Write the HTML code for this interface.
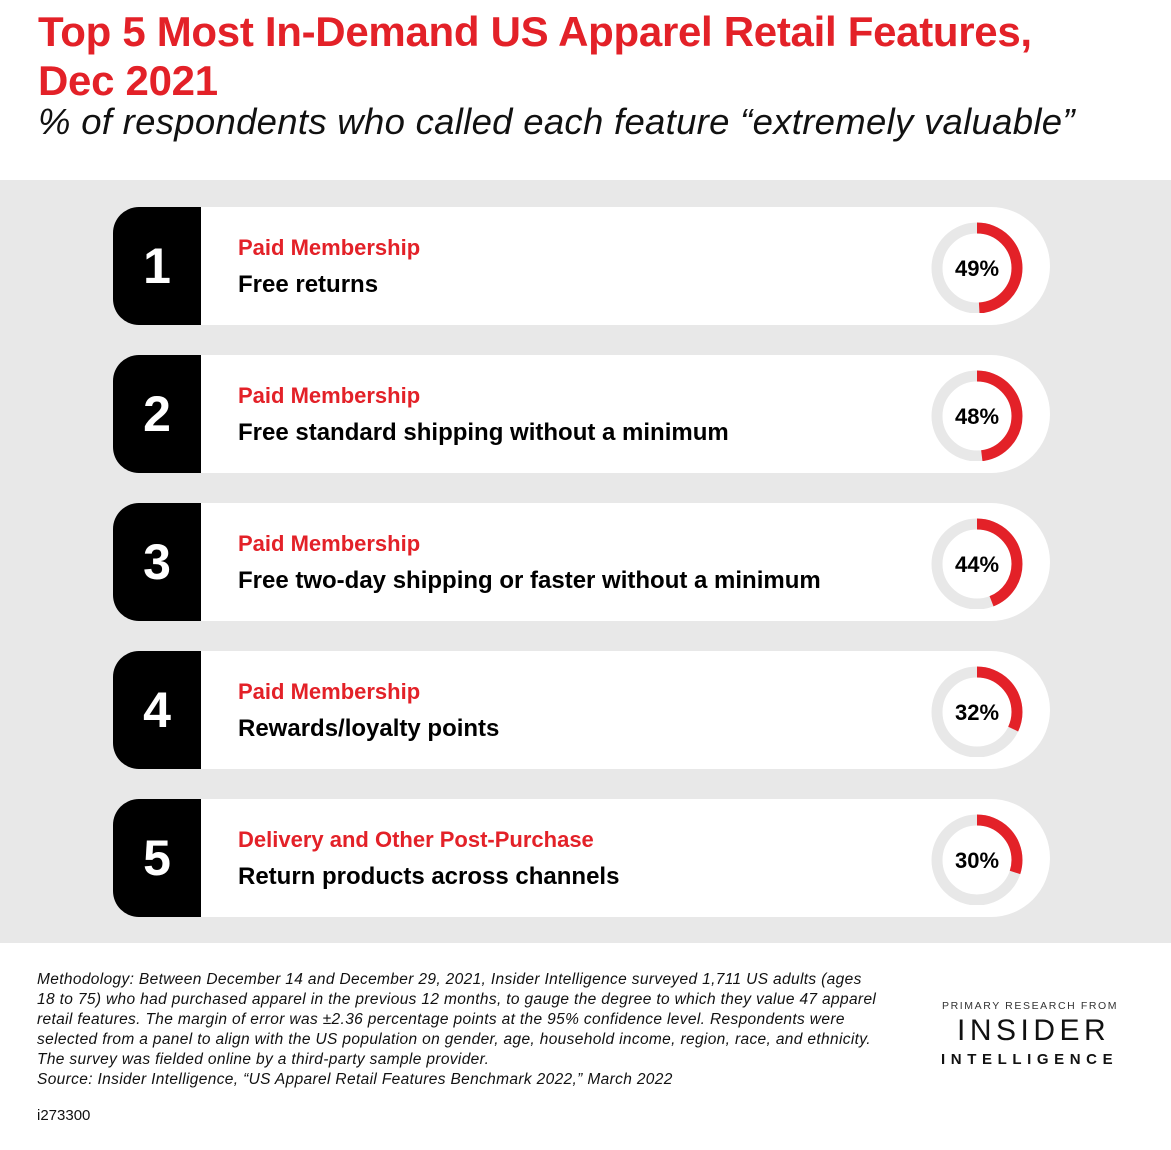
<!DOCTYPE html><html><head><style>
body{margin:0;width:1171px;height:1150px;background:#fff;font-family:"Liberation Sans",sans-serif;position:relative;overflow:hidden}
.a{position:absolute;white-space:nowrap}
.t{left:38px;color:#e32128;font-weight:bold;font-size:42px;letter-spacing:-0.3px}
.bg{left:0;top:180px;width:1171px;height:763px;background:#e8e8e8}
.card{position:absolute;left:113px;width:937px;height:118px;background:#fff;border-radius:26px 59px 59px 26px;overflow:hidden}
.num{position:absolute;left:0;top:2px;width:88px;height:118px;background:#000;color:#fff;font-size:50px;font-weight:bold;text-align:center;line-height:118px}
.r{position:absolute;left:125px;top:28px;color:#e32128;font-size:22px;font-weight:bold}
.k{position:absolute;left:125px;top:64px;color:#000;font-size:24px;font-weight:bold}
.d{position:absolute;left:817px;top:12px}
.f{left:37px;font-size:15.5px;font-style:italic;color:#111;line-height:20px;letter-spacing:0.35px}
</style></head><body>
<div class="a t" style="top:8px">Top 5 Most In-Demand US Apparel Retail Features,</div>
<div class="a t" style="top:57px">Dec 2021</div>
<div class="a" style="left:38px;top:101px;font-size:36.5px;font-style:italic;color:#111;letter-spacing:0.3px">% of respondents who called each feature “extremely valuable”</div>
<div class="a bg"></div>

<div class="card" style="top:207px"><div class="num" style="top:0">1</div><div class="r">Paid Membership</div><div class="k">Free returns</div>
<svg class="d" width="94" height="94"><circle cx="47" cy="49" r="40" fill="none" stroke="#e8e8e8" stroke-width="11"/><circle cx="47" cy="49" r="40" fill="none" stroke="#e32128" stroke-width="11" stroke-dasharray="123.2 300" transform="rotate(-90 47 49)"/><text x="47" y="57" text-anchor="middle" font-size="22" font-weight="bold" font-family="Liberation Sans">49%</text></svg></div>

<div class="card" style="top:355px"><div class="num" style="top:0">2</div><div class="r">Paid Membership</div><div class="k">Free standard shipping without a minimum</div>
<svg class="d" width="94" height="94"><circle cx="47" cy="49" r="40" fill="none" stroke="#e8e8e8" stroke-width="11"/><circle cx="47" cy="49" r="40" fill="none" stroke="#e32128" stroke-width="11" stroke-dasharray="120.6 300" transform="rotate(-90 47 49)"/><text x="47" y="57" text-anchor="middle" font-size="22" font-weight="bold" font-family="Liberation Sans">48%</text></svg></div>

<div class="card" style="top:503px"><div class="num" style="top:0">3</div><div class="r">Paid Membership</div><div class="k">Free two-day shipping or faster without a minimum</div>
<svg class="d" width="94" height="94"><circle cx="47" cy="49" r="40" fill="none" stroke="#e8e8e8" stroke-width="11"/><circle cx="47" cy="49" r="40" fill="none" stroke="#e32128" stroke-width="11" stroke-dasharray="110.6 300" transform="rotate(-90 47 49)"/><text x="47" y="57" text-anchor="middle" font-size="22" font-weight="bold" font-family="Liberation Sans">44%</text></svg></div>

<div class="card" style="top:651px"><div class="num" style="top:0">4</div><div class="r">Paid Membership</div><div class="k">Rewards/loyalty points</div>
<svg class="d" width="94" height="94"><circle cx="47" cy="49" r="40" fill="none" stroke="#e8e8e8" stroke-width="11"/><circle cx="47" cy="49" r="40" fill="none" stroke="#e32128" stroke-width="11" stroke-dasharray="80.4 300" transform="rotate(-90 47 49)"/><text x="47" y="57" text-anchor="middle" font-size="22" font-weight="bold" font-family="Liberation Sans">32%</text></svg></div>

<div class="card" style="top:799px"><div class="num" style="top:0">5</div><div class="r">Delivery and Other Post-Purchase</div><div class="k">Return products across channels</div>
<svg class="d" width="94" height="94"><circle cx="47" cy="49" r="40" fill="none" stroke="#e8e8e8" stroke-width="11"/><circle cx="47" cy="49" r="40" fill="none" stroke="#e32128" stroke-width="11" stroke-dasharray="75.4 300" transform="rotate(-90 47 49)"/><text x="47" y="57" text-anchor="middle" font-size="22" font-weight="bold" font-family="Liberation Sans">30%</text></svg></div>

<div class="a f" style="top:970px">Methodology: Between December 14 and December 29, 2021, Insider Intelligence surveyed 1,711 US adults (ages<br>18 to 75) who had purchased apparel in the previous 12 months, to gauge the degree to which they value 47 apparel<br>retail features. The margin of error was ±2.36 percentage points at the 95% confidence level. Respondents were<br>selected from a panel to align with the US population on gender, age, household income, region, race, and ethnicity.<br>The survey was fielded online by a third-party sample provider.<br>Source: Insider Intelligence, “US Apparel Retail Features Benchmark 2022,” March 2022</div>
<div class="a" style="left:37px;top:1107px;font-size:15px;color:#111">i273300</div>
<div class="a" style="left:942px;top:1000px;font-size:10.5px;letter-spacing:1.6px;color:#333">PRIMARY RESEARCH FROM</div>
<div class="a" style="left:957px;top:1014px;font-size:30px;letter-spacing:4.5px;color:#111">INSIDER</div>
<div class="a" style="left:941px;top:1051px;font-size:15px;letter-spacing:5.6px;font-weight:bold;color:#111">INTELLIGENCE</div>
</body></html>
